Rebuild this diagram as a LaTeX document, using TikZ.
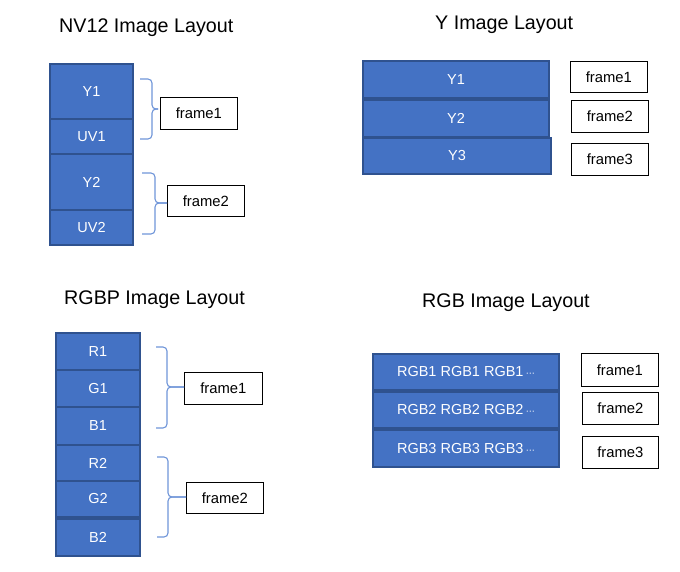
\documentclass[tikz,border=0pt]{standalone}
\usepackage{fontspec}
\setmainfont{Liberation Sans}
\newfontfamily\dejavu{DejaVu Sans}
\definecolor{blkfill}{HTML}{4472C4}
\definecolor{blkline}{HTML}{2F528F}
\definecolor{brcol}{HTML}{6F95D8}
\tikzset{
  blk/.style={draw=blkline, fill=blkfill, line width=1.6pt, text=white, inner sep=0pt, outer sep=0pt, anchor=north west, font=\fontsize{14.5}{16}\selectfont},
  frm/.style={draw=black, line width=0.8pt, fill=white, inner sep=0pt, anchor=north west, font=\fontsize{14.8}{16}\selectfont},
  ttl/.style={anchor=base west, inner sep=0pt, font=\fontsize{19.7}{22}\selectfont},
  brc/.style={draw=brcol, line width=1.1pt, rounded corners=4pt},
}
\newcommand{\mydots}{\,{\dejavu\fontsize{9}{10}\selectfont ⋯}}
\begin{document}
\begin{tikzpicture}[x=1pt,y=-1pt]
\useasboundingbox (0,0) rectangle (680,572);
% titles
\node[ttl] (t1) at (59,33) {NV12 Image Layout};
\node[ttl] (t2) at (435,30) {Y Image Layout};
\node[ttl] (t3) at (64,304) {RGBP Image Layout};
\node[ttl] (t4) at (422,307) {RGB Image Layout};

% NV12
\node[blk, minimum width=83, minimum height=55] (ny1) at (50,64) {Y1};
\node[blk, minimum width=83, minimum height=35] (nuv1) at (50,119) {UV1};
\node[blk, minimum width=83, minimum height=56] (ny2) at (50,154) {Y2};
\node[blk, minimum width=83, minimum height=35] (nuv2) at (50,210) {UV2};

\node[frm, minimum width=77, minimum height=32] (nf1) at (160,97) {frame1};
\node[frm, minimum width=77, minimum height=31] (nf2) at (167,185) {frame2};

\coordinate (nb1t) at (140,79); \coordinate (nb1b) at (140,139); \coordinate (nb1m) at (152,109);
\draw[brc] (nb1t) -- (nb1m |- nb1t) -- (nb1m) -- ++(6,0);
\draw[brc] (nb1b) -- (nb1m |- nb1b) -- (nb1m) -- ++(6,0);
\coordinate (nb2t) at (142,173); \coordinate (nb2b) at (142,234); \coordinate (nb2m) at (155,203);
\draw[brc] (nb2t) -- (nb2m |- nb2t) -- (nb2m) -- (nb2m -| nf2.west);
\draw[brc] (nb2b) -- (nb2m |- nb2b) -- (nb2m) -- (nb2m -| nf2.west);

% Y layout
\node[blk, minimum width=186, minimum height=37] (yy1) at (363,61) {Y1};
\node[blk, minimum width=186, minimum height=37] (yy2) at (363,100) {Y2};
\node[blk, minimum width=188, minimum height=36] (yy3) at (363,138) {Y3};
\node[frm, minimum width=77, minimum height=31] (yf1) at (570,61) {frame1};
\node[frm, minimum width=77, minimum height=32] (yf2) at (571,100) {frame2};
\node[frm, minimum width=77, minimum height=32] (yf3) at (571,143) {frame3};

% RGBP
\node[blk, minimum width=84, minimum height=37] (pr1) at (56,333) {R1};
\node[blk, minimum width=84, minimum height=37] (pg1) at (56,370) {G1};
\node[blk, minimum width=84, minimum height=38] (pb1) at (56,407) {B1};
\node[blk, minimum width=84, minimum height=36] (pr2) at (56,445) {R2};
\node[blk, minimum width=84, minimum height=36] (pg2) at (56,481) {G2};
\node[blk, minimum width=84, minimum height=37] (pb2) at (56,519) {B2};

\node[frm, minimum width=78, minimum height=32] (pf1) at (184,372) {frame1};
\node[frm, minimum width=77, minimum height=31] (pf2) at (186,482) {frame2};

\coordinate (pb1t) at (156,347); \coordinate (pb1b) at (156,428); \coordinate (pb1m) at (167,387);
\draw[brc] (pb1t) -- (pb1m |- pb1t) -- (pb1m) -- (pb1m -| pf1.west);
\draw[brc] (pb1b) -- (pb1m |- pb1b) -- (pb1m) -- (pb1m -| pf1.west);
\coordinate (pb2t) at (157,457); \coordinate (pb2b) at (157,537); \coordinate (pb2m) at (168,497);
\draw[brc] (pb2t) -- (pb2m |- pb2t) -- (pb2m) -- (pb2m -| pf2.west);
\draw[brc] (pb2b) -- (pb2m |- pb2b) -- (pb2m) -- (pb2m -| pf2.west);

% RGB
\node[blk, minimum width=186, minimum height=36, font=\fontsize{14.5}{16}\selectfont] (rr1) at (373,354) {RGB1 RGB1 RGB1\mydots};
\node[blk, minimum width=186, minimum height=36, font=\fontsize{14.5}{16}\selectfont] (rr2) at (373,392) {RGB2 RGB2 RGB2\mydots};
\node[blk, minimum width=186, minimum height=37, font=\fontsize{14.5}{16}\selectfont] (rr3) at (373,430) {RGB3 RGB3 RGB3\mydots};
\node[frm, minimum width=77, minimum height=33] (rf1) at (581,353) {frame1};
\node[frm, minimum width=76, minimum height=32] (rf2) at (582,392) {frame2};
\node[frm, minimum width=76, minimum height=32] (rf3) at (582,436) {frame3};
\end{tikzpicture}
\end{document}
